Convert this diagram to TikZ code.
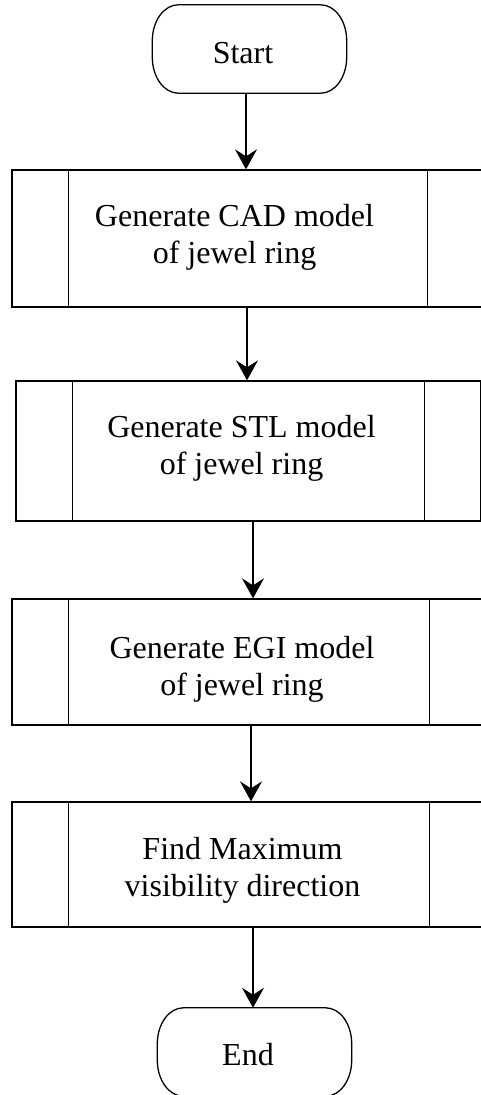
\documentclass[tikz,border=0pt]{standalone}
\usepackage{fontspec}
\setmainfont{Liberation Serif}
\usetikzlibrary{arrows.meta}
\begin{document}
\begin{tikzpicture}[x=1pt,y=1pt,
  line/.style={draw=black,line width=1.3pt},
  proc/.style={draw=black,line width=1.3pt,inner sep=0pt},
  term/.style={inner sep=0pt,minimum width=194pt,minimum height=88pt},
  txt/.style={font=\fontsize{32}{37}\selectfont,align=center,inner sep=0pt},
  arr/.style={line width=1.3pt,-{Stealth[length=20pt,width=22pt,inset=7pt]}}]
\useasboundingbox (0,0) rectangle (480,-1095);
% terminals
\node[term] (s) at (249.5,-49) {};
\node[term] (e) at (254.5,-1052) {};
\foreach \n in {s,e}{
  \draw[line] ([xshift=26pt]\n.north west) -- ([xshift=-26pt]\n.north east)
    arc[start angle=90,end angle=0,x radius=26pt,y radius=36pt]
    -- ([yshift=36pt]\n.south east)
    arc[start angle=0,end angle=-90,x radius=26pt,y radius=36pt]
    -- ([xshift=26pt]\n.south west)
    arc[start angle=270,end angle=180,x radius=26pt,y radius=36pt]
    -- ([yshift=-36pt]\n.north west)
    arc[start angle=180,end angle=90,x radius=26pt,y radius=36pt]
    -- cycle;
}
\node[txt,anchor=base] (st) at (243,-63.3) {Start};
\node[txt,anchor=base] (et) at (248,-1065) {End};
% process boxes
\node[proc,minimum width=472pt,minimum height=137pt] (b1) at (248,-238.5) {};
\node[proc,minimum width=465pt,minimum height=140pt] (b2) at (248.5,-451) {};
\node[proc,minimum width=474pt,minimum height=126pt] (b3) at (249,-662) {};
\node[proc,minimum width=474pt,minimum height=125pt] (b4) at (249,-864.5) {};
\foreach \b in {b1,b2,b3,b4}{
  \draw[line] ([xshift=57pt]\b.north west) -- ([xshift=57pt]\b.south west);
  \draw[line] ([xshift=-57pt]\b.north east) -- ([xshift=-57pt]\b.south east);
}
\node[txt] (t1) at (234.5,-237.5) {Generate CAD model\\of jewel ring};
\node[txt] (t2) at (241.5,-448) {Generate STL model\\of jewel ring};
\node[txt] (t3) at (242,-669) {Generate EGI model\\of jewel ring};
\node[txt] (t4) at (242.5,-870) {Find Maximum\\visibility direction};
% connectors
\draw[arr] ([xshift=-3.5pt]s.south) -- ([xshift=-2pt]b1.north);
\draw[arr] ([xshift=-1pt]b1.south) -- ([xshift=-1.5pt]b2.north);
\draw[arr] ([xshift=4.5pt]b2.south) -- ([xshift=4pt]b3.north);
\draw[arr] ([xshift=2pt]b3.south) -- ([xshift=2pt]b4.north);
\draw[arr] ([xshift=4pt]b4.south) -- ([xshift=-1.5pt]e.north);
\end{tikzpicture}
\end{document}
